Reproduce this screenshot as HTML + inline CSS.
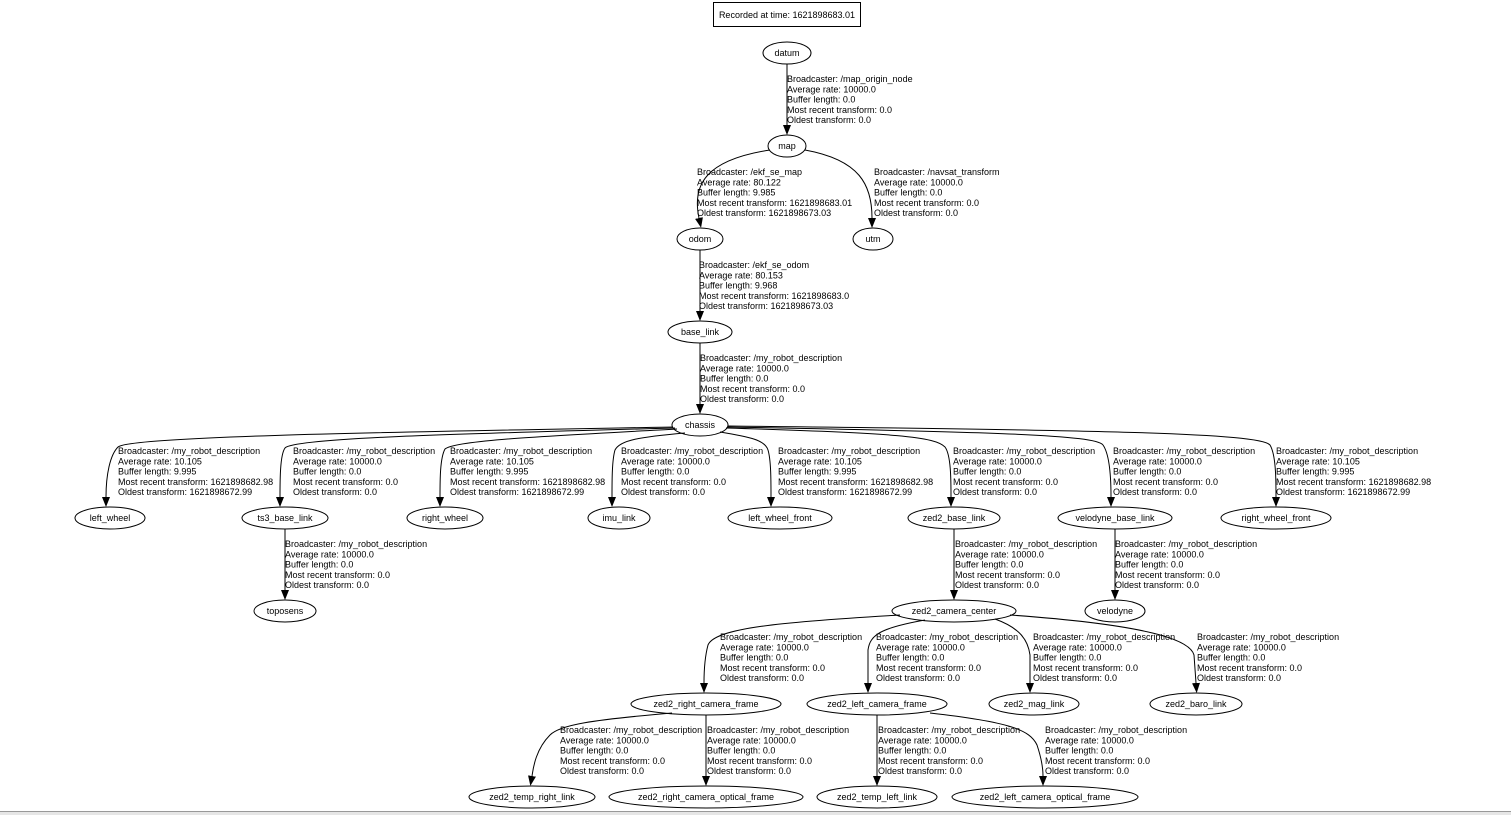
<!DOCTYPE html>
<html><head><meta charset="utf-8"><style>
html,body{margin:0;padding:0;background:#fff;}
svg{display:block}
text{font-family:"Liberation Sans","DejaVu Sans",sans-serif;font-size:9px;fill:#000}
.n{text-anchor:middle}
ellipse{fill:none;stroke:#000;stroke-width:1}
path.e{fill:none;stroke:#000;stroke-width:1}
</style></head><body>
<svg width="1511" height="815" viewBox="0 0 1511 815" xmlns="http://www.w3.org/2000/svg">
<defs><marker id="a" markerWidth="10" markerHeight="8" refX="0" refY="4" orient="auto" markerUnits="userSpaceOnUse"><path d="M0,0 L10,4 L0,8 Z" fill="#000"/></marker></defs>
<rect x="0" y="811" width="1511" height="4" fill="#e6e6e6"/>
<line x1="0" y1="811.5" x2="1511" y2="811.5" stroke="#999"/>
<rect x="713.5" y="2.5" width="147" height="24" fill="none" stroke="#000"/>
<text x="787" y="18" class="n">Recorded at time: 1621898683.01</text>

<!-- nodes -->
<g>
<ellipse cx="787" cy="53" rx="24" ry="11"/><text class="n" x="787" y="56">datum</text>
<ellipse cx="787" cy="146" rx="19" ry="11"/><text class="n" x="787" y="149">map</text>
<ellipse cx="700" cy="239" rx="23" ry="11"/><text class="n" x="700" y="242">odom</text>
<ellipse cx="873" cy="239" rx="20" ry="11"/><text class="n" x="873" y="242">utm</text>
<ellipse cx="700" cy="332" rx="32" ry="11"/><text class="n" x="700" y="335">base_link</text>
<ellipse cx="700" cy="425" rx="28" ry="11"/><text class="n" x="700" y="428">chassis</text>
<ellipse cx="110" cy="518" rx="35" ry="11"/><text class="n" x="110" y="521">left_wheel</text>
<ellipse cx="285" cy="518" rx="43" ry="11"/><text class="n" x="285" y="521">ts3_base_link</text>
<ellipse cx="445" cy="518" rx="38" ry="11"/><text class="n" x="445" y="521">right_wheel</text>
<ellipse cx="619" cy="518" rx="31" ry="11"/><text class="n" x="619" y="521">imu_link</text>
<ellipse cx="780" cy="518" rx="52" ry="11"/><text class="n" x="780" y="521">left_wheel_front</text>
<ellipse cx="954" cy="518" rx="46" ry="11"/><text class="n" x="954" y="521">zed2_base_link</text>
<ellipse cx="1115" cy="518" rx="57" ry="11"/><text class="n" x="1115" y="521">velodyne_base_link</text>
<ellipse cx="1276" cy="518" rx="55" ry="11"/><text class="n" x="1276" y="521">right_wheel_front</text>
<ellipse cx="285" cy="611" rx="31" ry="11"/><text class="n" x="285" y="614">toposens</text>
<ellipse cx="954" cy="611" rx="62" ry="11"/><text class="n" x="954" y="614">zed2_camera_center</text>
<ellipse cx="1115" cy="611" rx="30" ry="11"/><text class="n" x="1115" y="614">velodyne</text>
<ellipse cx="706" cy="704" rx="75" ry="11"/><text class="n" x="706" y="707">zed2_right_camera_frame</text>
<ellipse cx="877" cy="704" rx="70" ry="11"/><text class="n" x="877" y="707">zed2_left_camera_frame</text>
<ellipse cx="1034" cy="704" rx="45" ry="11"/><text class="n" x="1034" y="707">zed2_mag_link</text>
<ellipse cx="1196" cy="704" rx="46" ry="11"/><text class="n" x="1196" y="707">zed2_baro_link</text>
<ellipse cx="532" cy="797" rx="63" ry="11"/><text class="n" x="532" y="800">zed2_temp_right_link</text>
<ellipse cx="706" cy="797" rx="97" ry="11"/><text class="n" x="706" y="800">zed2_right_camera_optical_frame</text>
<ellipse cx="877" cy="797" rx="60" ry="11"/><text class="n" x="877" y="800">zed2_temp_left_link</text>
<ellipse cx="1045" cy="797" rx="93" ry="11"/><text class="n" x="1045" y="800">zed2_left_camera_optical_frame</text>
</g>

<!-- edges -->
<g>
<path class="e" marker-end="url(#a)" d="M787,64 L787,125"/>
<path class="e" marker-end="url(#a)" d="M770,150 C705,160 692,185 699,218"/>
<path class="e" marker-end="url(#a)" d="M805,150 C860,160 872,185 872,218"/>
<path class="e" marker-end="url(#a)" d="M700,250 L700,311"/>
<path class="e" marker-end="url(#a)" d="M700,343 L700,404"/>
<path class="e" marker-end="url(#a)" d="M673,427 C400,432 130,436 118,447 C110,455 106,475 106,497"/>
<path class="e" marker-end="url(#a)" d="M675,428 C450,434 295,438 285,448 C280,455 280,480 280,497"/>
<path class="e" marker-end="url(#a)" d="M677,429 C550,436 455,440 445,449 C440,458 440,480 440,497"/>
<path class="e" marker-end="url(#a)" d="M685,433 C640,437 620,440 615,450 C612,460 612,480 612,497"/>
<path class="e" marker-end="url(#a)" d="M720,432 C750,437 765,440 768,450 C771,460 771,480 771,497"/>
<path class="e" marker-end="url(#a)" d="M726,428 C900,433 935,437 945,447 C951,455 951,480 951,497"/>
<path class="e" marker-end="url(#a)" d="M727,427 C1000,432 1095,435 1103,445 C1110,455 1111,480 1111,497"/>
<path class="e" marker-end="url(#a)" d="M728,426 C1100,430 1260,433 1270,445 C1276,455 1276,480 1276,497"/>
<path class="e" marker-end="url(#a)" d="M285,529 L285,590"/>
<path class="e" marker-end="url(#a)" d="M954,529 L954,590"/>
<path class="e" marker-end="url(#a)" d="M1115,529 L1115,590"/>
<path class="e" marker-end="url(#a)" d="M900,615 C780,622 715,628 708,645 C704,660 704,675 704,683"/>
<path class="e" marker-end="url(#a)" d="M925,620 C880,628 870,635 868,650 L868,683"/>
<path class="e" marker-end="url(#a)" d="M995,619 C1020,628 1028,640 1030,655 L1030,683"/>
<path class="e" marker-end="url(#a)" d="M1010,615 C1150,625 1190,640 1194,655 L1196,683"/>
<path class="e" marker-end="url(#a)" d="M672,713 C590,720 560,725 550,735 C535,750 533,770 532,776"/>
<path class="e" marker-end="url(#a)" d="M706,715 L706,776"/>
<path class="e" marker-end="url(#a)" d="M877,715 L877,776"/>
<path class="e" marker-end="url(#a)" d="M930,713 C1010,722 1030,730 1037,745 C1042,760 1043,770 1043,776"/>
</g>

<!-- labels -->
<g>
<text x="787" y="82"><tspan x="787">Broadcaster: /map_origin_node</tspan><tspan x="787" dy="10.25">Average rate: 10000.0</tspan><tspan x="787" dy="10.25">Buffer length: 0.0</tspan><tspan x="787" dy="10.25">Most recent transform: 0.0</tspan><tspan x="787" dy="10.25">Oldest transform: 0.0</tspan></text>
<text x="697" y="175"><tspan x="697">Broadcaster: /ekf_se_map</tspan><tspan x="697" dy="10.25">Average rate: 80.122</tspan><tspan x="697" dy="10.25">Buffer length: 9.985</tspan><tspan x="697" dy="10.25">Most recent transform: 1621898683.01</tspan><tspan x="697" dy="10.25">Oldest transform: 1621898673.03</tspan></text>
<text x="874" y="175"><tspan x="874">Broadcaster: /navsat_transform</tspan><tspan x="874" dy="10.25">Average rate: 10000.0</tspan><tspan x="874" dy="10.25">Buffer length: 0.0</tspan><tspan x="874" dy="10.25">Most recent transform: 0.0</tspan><tspan x="874" dy="10.25">Oldest transform: 0.0</tspan></text>
<text x="699" y="268"><tspan x="699">Broadcaster: /ekf_se_odom</tspan><tspan x="699" dy="10.25">Average rate: 80.153</tspan><tspan x="699" dy="10.25">Buffer length: 9.968</tspan><tspan x="699" dy="10.25">Most recent transform: 1621898683.0</tspan><tspan x="699" dy="10.25">Oldest transform: 1621898673.03</tspan></text>
<text x="700" y="361"><tspan x="700">Broadcaster: /my_robot_description</tspan><tspan x="700" dy="10.25">Average rate: 10000.0</tspan><tspan x="700" dy="10.25">Buffer length: 0.0</tspan><tspan x="700" dy="10.25">Most recent transform: 0.0</tspan><tspan x="700" dy="10.25">Oldest transform: 0.0</tspan></text>

<text y="454"><tspan x="118">Broadcaster: /my_robot_description</tspan><tspan x="118" dy="10.25">Average rate: 10.105</tspan><tspan x="118" dy="10.25">Buffer length: 9.995</tspan><tspan x="118" dy="10.25">Most recent transform: 1621898682.98</tspan><tspan x="118" dy="10.25">Oldest transform: 1621898672.99</tspan></text>
<text y="454"><tspan x="293">Broadcaster: /my_robot_description</tspan><tspan x="293" dy="10.25">Average rate: 10000.0</tspan><tspan x="293" dy="10.25">Buffer length: 0.0</tspan><tspan x="293" dy="10.25">Most recent transform: 0.0</tspan><tspan x="293" dy="10.25">Oldest transform: 0.0</tspan></text>
<text y="454"><tspan x="450">Broadcaster: /my_robot_description</tspan><tspan x="450" dy="10.25">Average rate: 10.105</tspan><tspan x="450" dy="10.25">Buffer length: 9.995</tspan><tspan x="450" dy="10.25">Most recent transform: 1621898682.98</tspan><tspan x="450" dy="10.25">Oldest transform: 1621898672.99</tspan></text>
<text y="454"><tspan x="621">Broadcaster: /my_robot_description</tspan><tspan x="621" dy="10.25">Average rate: 10000.0</tspan><tspan x="621" dy="10.25">Buffer length: 0.0</tspan><tspan x="621" dy="10.25">Most recent transform: 0.0</tspan><tspan x="621" dy="10.25">Oldest transform: 0.0</tspan></text>
<text y="454"><tspan x="778">Broadcaster: /my_robot_description</tspan><tspan x="778" dy="10.25">Average rate: 10.105</tspan><tspan x="778" dy="10.25">Buffer length: 9.995</tspan><tspan x="778" dy="10.25">Most recent transform: 1621898682.98</tspan><tspan x="778" dy="10.25">Oldest transform: 1621898672.99</tspan></text>
<text y="454"><tspan x="953">Broadcaster: /my_robot_description</tspan><tspan x="953" dy="10.25">Average rate: 10000.0</tspan><tspan x="953" dy="10.25">Buffer length: 0.0</tspan><tspan x="953" dy="10.25">Most recent transform: 0.0</tspan><tspan x="953" dy="10.25">Oldest transform: 0.0</tspan></text>
<text y="454"><tspan x="1113">Broadcaster: /my_robot_description</tspan><tspan x="1113" dy="10.25">Average rate: 10000.0</tspan><tspan x="1113" dy="10.25">Buffer length: 0.0</tspan><tspan x="1113" dy="10.25">Most recent transform: 0.0</tspan><tspan x="1113" dy="10.25">Oldest transform: 0.0</tspan></text>
<text y="454"><tspan x="1276">Broadcaster: /my_robot_description</tspan><tspan x="1276" dy="10.25">Average rate: 10.105</tspan><tspan x="1276" dy="10.25">Buffer length: 9.995</tspan><tspan x="1276" dy="10.25">Most recent transform: 1621898682.98</tspan><tspan x="1276" dy="10.25">Oldest transform: 1621898672.99</tspan></text>

<text y="547"><tspan x="285">Broadcaster: /my_robot_description</tspan><tspan x="285" dy="10.25">Average rate: 10000.0</tspan><tspan x="285" dy="10.25">Buffer length: 0.0</tspan><tspan x="285" dy="10.25">Most recent transform: 0.0</tspan><tspan x="285" dy="10.25">Oldest transform: 0.0</tspan></text>
<text y="547"><tspan x="955">Broadcaster: /my_robot_description</tspan><tspan x="955" dy="10.25">Average rate: 10000.0</tspan><tspan x="955" dy="10.25">Buffer length: 0.0</tspan><tspan x="955" dy="10.25">Most recent transform: 0.0</tspan><tspan x="955" dy="10.25">Oldest transform: 0.0</tspan></text>
<text y="547"><tspan x="1115">Broadcaster: /my_robot_description</tspan><tspan x="1115" dy="10.25">Average rate: 10000.0</tspan><tspan x="1115" dy="10.25">Buffer length: 0.0</tspan><tspan x="1115" dy="10.25">Most recent transform: 0.0</tspan><tspan x="1115" dy="10.25">Oldest transform: 0.0</tspan></text>

<text y="640"><tspan x="720">Broadcaster: /my_robot_description</tspan><tspan x="720" dy="10.25">Average rate: 10000.0</tspan><tspan x="720" dy="10.25">Buffer length: 0.0</tspan><tspan x="720" dy="10.25">Most recent transform: 0.0</tspan><tspan x="720" dy="10.25">Oldest transform: 0.0</tspan></text>
<text y="640"><tspan x="876">Broadcaster: /my_robot_description</tspan><tspan x="876" dy="10.25">Average rate: 10000.0</tspan><tspan x="876" dy="10.25">Buffer length: 0.0</tspan><tspan x="876" dy="10.25">Most recent transform: 0.0</tspan><tspan x="876" dy="10.25">Oldest transform: 0.0</tspan></text>
<text y="640"><tspan x="1033">Broadcaster: /my_robot_description</tspan><tspan x="1033" dy="10.25">Average rate: 10000.0</tspan><tspan x="1033" dy="10.25">Buffer length: 0.0</tspan><tspan x="1033" dy="10.25">Most recent transform: 0.0</tspan><tspan x="1033" dy="10.25">Oldest transform: 0.0</tspan></text>
<text y="640"><tspan x="1197">Broadcaster: /my_robot_description</tspan><tspan x="1197" dy="10.25">Average rate: 10000.0</tspan><tspan x="1197" dy="10.25">Buffer length: 0.0</tspan><tspan x="1197" dy="10.25">Most recent transform: 0.0</tspan><tspan x="1197" dy="10.25">Oldest transform: 0.0</tspan></text>

<text y="733"><tspan x="560">Broadcaster: /my_robot_description</tspan><tspan x="560" dy="10.25">Average rate: 10000.0</tspan><tspan x="560" dy="10.25">Buffer length: 0.0</tspan><tspan x="560" dy="10.25">Most recent transform: 0.0</tspan><tspan x="560" dy="10.25">Oldest transform: 0.0</tspan></text>
<text y="733"><tspan x="707">Broadcaster: /my_robot_description</tspan><tspan x="707" dy="10.25">Average rate: 10000.0</tspan><tspan x="707" dy="10.25">Buffer length: 0.0</tspan><tspan x="707" dy="10.25">Most recent transform: 0.0</tspan><tspan x="707" dy="10.25">Oldest transform: 0.0</tspan></text>
<text y="733"><tspan x="878">Broadcaster: /my_robot_description</tspan><tspan x="878" dy="10.25">Average rate: 10000.0</tspan><tspan x="878" dy="10.25">Buffer length: 0.0</tspan><tspan x="878" dy="10.25">Most recent transform: 0.0</tspan><tspan x="878" dy="10.25">Oldest transform: 0.0</tspan></text>
<text y="733"><tspan x="1045">Broadcaster: /my_robot_description</tspan><tspan x="1045" dy="10.25">Average rate: 10000.0</tspan><tspan x="1045" dy="10.25">Buffer length: 0.0</tspan><tspan x="1045" dy="10.25">Most recent transform: 0.0</tspan><tspan x="1045" dy="10.25">Oldest transform: 0.0</tspan></text>
</g>
</svg>
</body></html>
